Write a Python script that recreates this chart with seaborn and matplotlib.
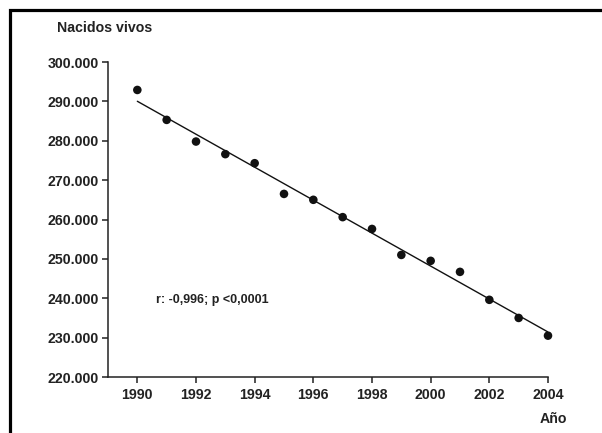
import numpy as np
import pandas as pd
import matplotlib
matplotlib.use("Agg")
import matplotlib.pyplot as plt
import matplotlib.patches as mpatches
import seaborn as sns

years = [1990, 1991, 1992, 1993, 1994, 1995, 1996, 1997, 1998, 1999, 2000, 2001, 2002, 2003, 2004]
births = [292900, 285300, 279800, 276600, 274300, 266500, 265000, 260600, 257600,
          251000, 249500, 246700, 239600, 235000, 230500]
y_ticks = [220000, 230000, 240000, 250000, 260000, 270000, 280000, 290000, 300000]
y_tick_labels = ["220.000", "230.000", "240.000", "250.000", "260.000",
                 "270.000", "280.000", "290.000", "300.000"]
x_ticks = [1990, 1992, 1994, 1996, 1998, 2000, 2002, 2004]

df = pd.DataFrame({"Año": years, "Nacidos vivos": births})

sns.set_style("ticks")
plt.rcParams["font.family"] = ["Liberation Sans", "DejaVu Sans"]
plt.rcParams["font.weight"] = "bold"

fig = plt.figure(figsize=(6.02, 4.33), dpi=100)
ax = fig.add_axes([108 / 602, 1 - 377 / 433, (548 - 108) / 602, (377 - 62) / 433])

sns.regplot(data=df, x="Año", y="Nacidos vivos", ci=None, ax=ax, truncate=True,
            scatter_kws=dict(s=38, color="#111111", alpha=1, edgecolor="none",
                             clip_on=False, zorder=3),
            line_kws=dict(color="#111111", linewidth=1.0))

ax.set_xlim(1989, 2004)
ax.set_ylim(220000, 300000)
ax.set_xticks(x_ticks)
ax.set_xticklabels([str(x) for x in x_ticks], fontsize=10.2, fontweight="bold", color="#222222")
ax.set_yticks(y_ticks)
ax.set_yticklabels(y_tick_labels, fontsize=10.2, fontweight="bold", color="#222222")
ax.set_xlabel("")
ax.set_ylabel("")
for s in ["top", "right"]:
    ax.spines[s].set_visible(False)
for s in ["left", "bottom"]:
    ax.spines[s].set_linewidth(1.1)
    ax.spines[s].set_color("#222222")
ax.tick_params(axis="y", length=4, width=1.1, pad=2.5, color="#222222")
ax.tick_params(axis="x", length=4, width=1.1, pad=4, color="#222222")

fig.text(57 / 602, 1 - 28 / 433, "Nacidos vivos", fontsize=10.2, fontweight="bold",
         ha="left", va="center", color="#222222")
fig.text(567 / 602, 1 - 419 / 433, "Año", fontsize=10.2, fontweight="bold",
         ha="right", va="center", color="#222222")
ax.text(156 / 602, 1 - 300 / 433, "r: -0,996; p <0,0001", transform=fig.transFigure,
        fontsize=9, fontweight="bold", ha="left", va="center", color="#222222")

frame = mpatches.Rectangle((10 / 602, -0.2), 1.5, 1.2 - 10 / 433, transform=fig.transFigure,
                           fill=False, edgecolor="black", linewidth=2.3)
fig.add_artist(frame)

fig.savefig("out.png", dpi=100)
